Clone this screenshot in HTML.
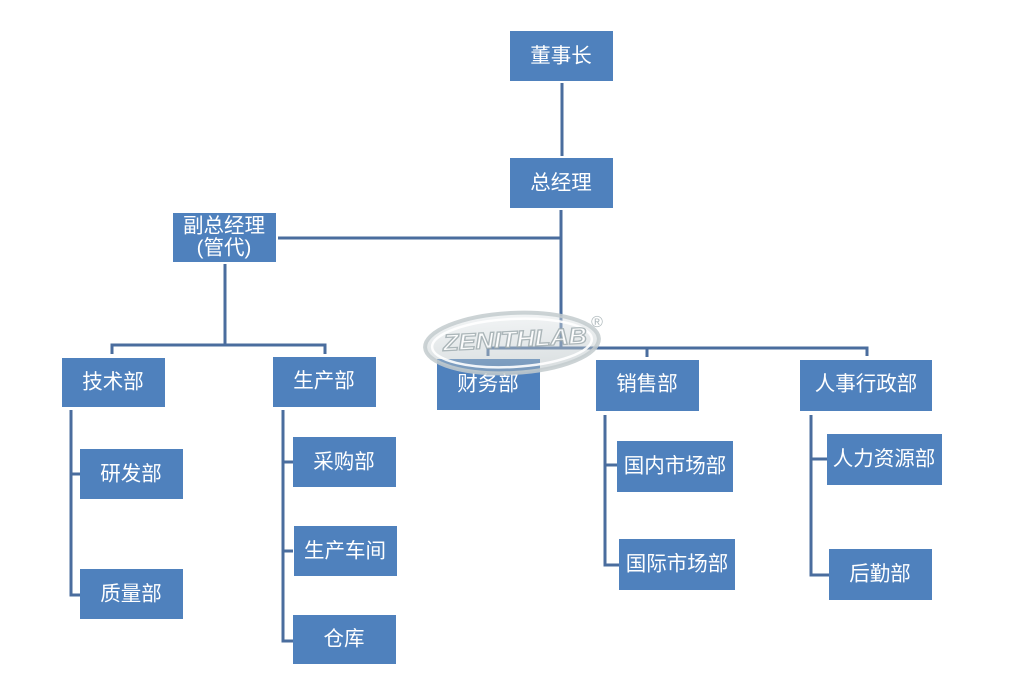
<!DOCTYPE html>
<html><head><meta charset="utf-8"><style>
html,body{margin:0;padding:0;background:#fff;width:1029px;height:689px;overflow:hidden}
svg{display:block}
text{font-family:"Liberation Sans","Noto Sans CJK SC",sans-serif;fill:#fff;font-size:20.5px}
</style></head><body>
<svg width="1029" height="689" viewBox="0 0 1029 689" xmlns="http://www.w3.org/2000/svg">
<g stroke="#4a6d9e" stroke-width="3" fill="none">
  <line x1="562" y1="83" x2="562" y2="156"/>
  <line x1="561" y1="210" x2="561" y2="349"/>
  <line x1="278" y1="238" x2="562" y2="238"/>
  <line x1="225" y1="264" x2="225" y2="346"/>
  <polyline points="112,354 112,345 325,345 325,354"/>
  <polyline points="488,356 488,348 867,348 867,356"/>
  <line x1="647" y1="348" x2="647" y2="357"/>
  <polyline points="71,410 71,595 80,595"/>
  <line x1="71" y1="474" x2="80" y2="474"/>
  <polyline points="283,410 283,641 293,641"/>
  <line x1="283" y1="462" x2="293" y2="462"/>
  <line x1="283" y1="551" x2="293" y2="551"/>
  <polyline points="605,415 605,565 619,565"/>
  <line x1="605" y1="465" x2="617" y2="465"/>
  <polyline points="811,415 811,575 829,575"/>
  <line x1="811" y1="459" x2="827" y2="459"/>
</g>
<g fill="#4f81bd">
  <rect x="510" y="31" width="103" height="50"/>
  <rect x="510" y="158" width="103" height="50"/>
  <rect x="173" y="213" width="103" height="49"/>
  <rect x="62" y="358" width="103" height="49"/>
  <rect x="273" y="357" width="103" height="50"/>
  <rect x="80" y="449" width="103" height="50"/>
  <rect x="80" y="569" width="103" height="50"/>
  <rect x="293" y="437" width="103" height="50"/>
  <rect x="294" y="526" width="103" height="50"/>
  <rect x="293" y="615" width="103" height="49"/>
  <rect x="437" y="359" width="103" height="51"/>
  <rect x="596" y="360" width="103" height="51"/>
  <rect x="800" y="360" width="132" height="51"/>
  <rect x="617" y="441" width="116" height="51"/>
  <rect x="619" y="539" width="116" height="51"/>
  <rect x="827" y="434" width="115" height="51"/>
  <rect x="829" y="549" width="103" height="51"/>
</g>
<g text-anchor="middle" dominant-baseline="central">
  <text x="561" y="56">董事长</text>
  <text x="561" y="183">总经理</text>
  <text x="224" y="226">副总经理</text>
  <text x="224" y="248">(管代)</text>
  <text x="113" y="382">技术部</text>
  <text x="324" y="381">生产部</text>
  <text x="131" y="474">研发部</text>
  <text x="131" y="594">质量部</text>
  <text x="344" y="462">采购部</text>
  <text x="345" y="551">生产车间</text>
  <text x="344" y="639">仓库</text>
  <text x="488" y="384">财务部</text>
  <text x="647" y="384">销售部</text>
  <text x="866" y="384">人事行政部</text>
  <text x="675" y="466">国内市场部</text>
  <text x="677" y="564">国际市场部</text>
  <text x="884" y="459">人力资源部</text>
  <text x="880" y="574">后勤部</text>
</g>
<!-- watermark -->
<defs>
  <linearGradient id="wg" x1="0" y1="0" x2="0" y2="1">
    <stop offset="0" stop-color="#e3e8ea"/>
    <stop offset="1" stop-color="#aab6ba"/>
  </linearGradient>
</defs>
<g>
  <ellipse cx="512" cy="343" rx="87" ry="30" transform="rotate(-3 512 343)" fill="url(#wg)" fill-opacity="0.45" stroke="#c3cbce" stroke-width="4" stroke-opacity="0.85"/>
  <ellipse cx="512" cy="343" rx="80" ry="24" transform="rotate(-3 512 343)" fill="none" stroke="#ffffff" stroke-width="2.5" stroke-opacity="0.9"/>
  <text x="515" y="347" text-anchor="middle" style="font-family:'Liberation Sans',sans-serif;font-size:23px;font-weight:bold;font-style:italic;fill:#ffffff;fill-opacity:0.85;stroke:#9aa6aa;stroke-width:1.3;stroke-opacity:0.8" transform="rotate(-3 515 340)" textLength="144" lengthAdjust="spacingAndGlyphs">ZENITHLAB</text>
  <text x="597" y="327" text-anchor="middle" style="font-family:'Liberation Sans',sans-serif;font-size:16px;fill:#b0babd">®</text>
</g>
</svg>
</body></html>
